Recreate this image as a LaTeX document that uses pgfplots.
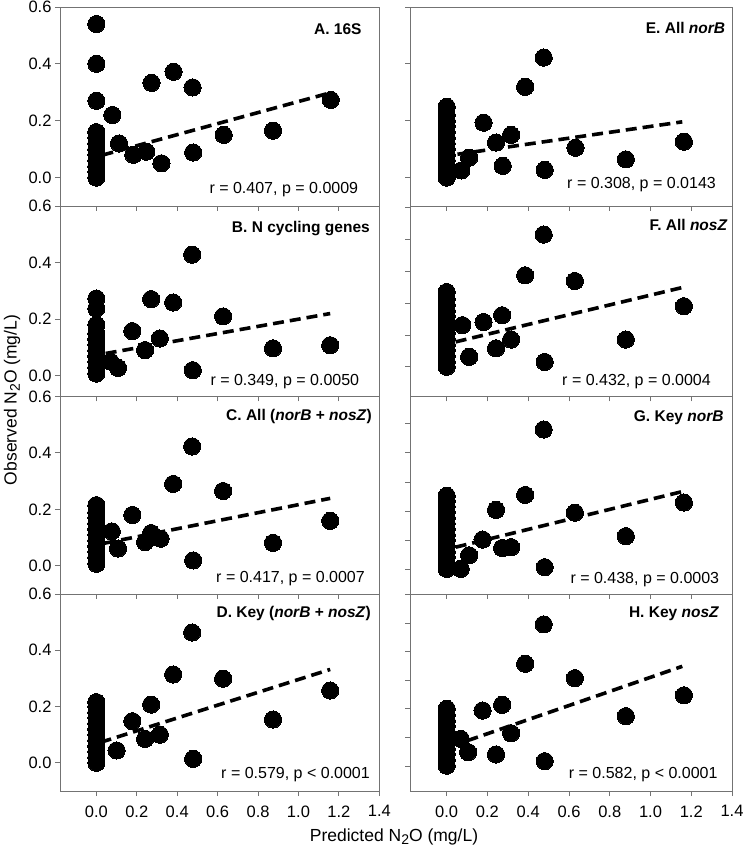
\documentclass[border=0pt]{standalone}
\usepackage{pgfplots}
\pgfplotsset{compat=1.18}
\usepackage{fontspec}
\setmainfont{Liberation Sans}
\definecolor{axgray}{gray}{0.45}
\newcommand{\NtwoO}{N\raisebox{-0.35ex}{\fontsize{14}{14}\selectfont 2}O}
\pgfplotsset{
  panel/.style={
    scale only axis,
    xmin=-0.18, xmax=1.4, ymax=0.6,
    axis line style={axgray, line width=0.9pt},
    tick style={axgray, line width=0.9pt},
    major tick length=5pt,
    tick align=outside,
    xtick pos=bottom, ytick pos=left,
    xtick={0,0.2,0.4,0.6,0.8,1.0,1.2,1.4},
    xticklabels={},
    clip=false,
    /pgf/number format/assume math mode=true,
    ticklabel style={font=\fontsize{16.5}{17}\selectfont},
    yticklabel style={/pgf/number format/.cd, fixed, fixed zerofill, precision=1},
    xticklabel style={yshift=-6pt},
  },
  leftp/.style={panel, width=319.3pt, ytick={0,0.2,0.4,0.6}},
  rightp/.style={panel, width=322pt, yticklabels={}},
  dots/.style={only marks, mark=*, mark size=8.6pt, mark options={fill=black, draw=black, line width=0pt}},
  reg/.style={no marks, black, line width=3.6pt, dash pattern=on 11pt off 6pt},
  xlabs/.style={xticklabels={0.0,0.2,0.4,0.6,0.8,1.0,1.2,1.4}},
}
\newcommand{\ttl}{\fontsize{15.5}{18}\selectfont\bfseries}
\newcommand{\rtx}{\fontsize{16}{18}\selectfont}
\begin{document}
\begin{tikzpicture}[x=1pt,y=1pt]
\path[use as bounding box] (0,0) rectangle (742,850);
% ---------- A ----------
\begin{axis}[leftp, at={(60pt,644pt)}, anchor=south west, height=199pt, ymin=-0.1]
\addplot[dots] coordinates {(0,0) (0,0.02) (0,0.04) (0,0.06) (0,0.08) (0,0.10) (0,0.12) (0,0.14) (0,0.16) (0,0.27) (0,0.40) (0,0.54)
 (0.079,0.22) (0.112,0.12) (0.183,0.08) (0.247,0.091) (0.273,0.333) (0.322,0.05) (0.382,0.372) (0.476,0.317) (0.479,0.088) (0.63,0.15) (0.874,0.165) (1.16,0.273)};
\addplot[reg] coordinates {(0.03,0.079) (1.157,0.298)};
\end{axis}
% ---------- B ----------
\begin{axis}[leftp, at={(60pt,453.5pt)}, anchor=south west, height=190.5pt, ymin=-0.073]
\addplot[dots] coordinates {(0,0.008) (0,0.03) (0,0.05) (0,0.07) (0,0.09) (0,0.11) (0,0.13) (0,0.15) (0,0.18) (0,0.238) (0,0.273)
 (0.07,0.05) (0.107,0.028) (0.178,0.158) (0.241,0.091) (0.271,0.271) (0.314,0.132) (0.38,0.259) (0.474,0.428) (0.477,0.02) (0.627,0.21) (0.874,0.097) (1.157,0.108)};
\addplot[reg] coordinates {(0.046,0.079) (1.157,0.22)};
\end{axis}
% ---------- C ----------
\begin{axis}[leftp, at={(60pt,256pt)}, anchor=south west, height=197.5pt, ymin=-0.1]
\addplot[dots] coordinates {(0,0.007) (0,0.03) (0,0.05) (0,0.07) (0,0.09) (0,0.11) (0,0.13) (0,0.15) (0,0.17) (0,0.19) (0,0.215)
 (0.076,0.122) (0.107,0.061) (0.178,0.18) (0.241,0.084) (0.271,0.116) (0.318,0.096) (0.38,0.29) (0.474,0.423) (0.479,0.019) (0.627,0.265) (0.874,0.081) (1.157,0.159)};
\addplot[reg] coordinates {(0.04,0.080) (1.157,0.239)};
\end{axis}
% ---------- D ----------
\begin{axis}[leftp, xlabs, at={(60pt,59pt)}, anchor=south west, height=197pt, ymin=-0.1]
\addplot[dots] coordinates {(0,0) (0,0.02) (0,0.04) (0,0.06) (0,0.08) (0,0.10) (0,0.12) (0,0.14) (0,0.16) (0,0.18) (0,0.2) (0,0.216)
 (0.1,0.044) (0.178,0.148) (0.241,0.085) (0.271,0.207) (0.314,0.1) (0.38,0.314) (0.474,0.463) (0.479,0.014) (0.627,0.299) (0.874,0.154) (1.157,0.257)};
\addplot[reg] coordinates {(0.021,0.073) (1.157,0.332)};
\end{axis}
% ---------- E ----------
\begin{axis}[rightp, at={(410pt,644pt)}, anchor=south west, height=199pt, ymin=-0.1, ytick={0,0.2,0.4,0.6}]
\addplot[dots] coordinates {(0,0.0) (0,0.02) (0,0.04) (0,0.06) (0,0.08) (0,0.10) (0,0.12) (0,0.14) (0,0.16) (0,0.18) (0,0.2) (0,0.22) (0,0.249)
 (0.072,0.025) (0.11,0.07) (0.181,0.193) (0.242,0.123) (0.275,0.041) (0.316,0.15) (0.385,0.319) (0.476,0.422) (0.481,0.027) (0.632,0.105) (0.879,0.064) (1.164,0.126)};
\addplot[reg] coordinates {(0.053,0.082) (1.156,0.196)};
\end{axis}
% ---------- F ----------
\begin{axis}[rightp, at={(410pt,453.5pt)}, anchor=south west, height=190.5pt, ymin=-0.073, ytick={0.032,0.144,0.256,0.369,0.482,0.595}]
\addplot[dots] coordinates {(0,0.032) (0,0.05) (0,0.07) (0,0.09) (0,0.11) (0,0.13) (0,0.15) (0,0.17) (0,0.19) (0,0.21) (0,0.23) (0,0.25) (0,0.27) (0,0.296)
 (0.077,0.179) (0.11,0.067) (0.181,0.19) (0.242,0.097) (0.272,0.214) (0.316,0.128) (0.385,0.355) (0.476,0.499) (0.481,0.049) (0.629,0.335) (0.879,0.128) (1.164,0.246)};
\addplot[reg] coordinates {(0.044,0.12) (1.156,0.312)};
\end{axis}
% ---------- G ----------
\begin{axis}[rightp, at={(410pt,256pt)}, anchor=south west, height=197.5pt, ymin=-0.1, ytick={-0.013,0.09,0.194,0.296,0.4,0.504}]
\addplot[dots] coordinates {(0,-0.011) (0,0.01) (0,0.03) (0,0.05) (0,0.07) (0,0.09) (0,0.11) (0,0.13) (0,0.15) (0,0.17) (0,0.19) (0,0.21) (0,0.23) (0,0.248)
 (0.069,-0.011) (0.11,0.037) (0.176,0.093) (0.242,0.198) (0.272,0.063) (0.316,0.066) (0.385,0.251) (0.476,0.483) (0.481,-0.005) (0.629,0.188) (0.879,0.105) (1.164,0.224)};
\addplot[reg] coordinates {(0.044,0.066) (1.156,0.263)};
\end{axis}
% ---------- H ----------
\begin{axis}[rightp, xlabs, at={(410pt,59pt)}, anchor=south west, height=197pt, ymin=-0.1, ytick={-0.011,0.09,0.192,0.294,0.396,0.497,0.598}]
\addplot[dots] coordinates {(0,-0.01) (0,0.01) (0,0.03) (0,0.05) (0,0.07) (0,0.09) (0,0.11) (0,0.13) (0,0.15) (0,0.17) (0,0.192)
 (0.069,0.085) (0.105,0.038) (0.176,0.186) (0.242,0.03) (0.272,0.206) (0.316,0.105) (0.385,0.352) (0.476,0.492) (0.481,0.006) (0.629,0.301) (0.879,0.166) (1.164,0.24)};
\addplot[reg] coordinates {(0.102,0.079) (1.156,0.343)};
\end{axis}
% ---------- panel texts ----------
\node[anchor=east, inner sep=0pt] at (361.7,821.3) {\ttl A. 16S};
\node[anchor=east, inner sep=0pt] at (358.3,660) {\rtx r = 0.407, p = 0.0009};
\node[anchor=east, inner sep=0pt] at (370,621.7) {\ttl B. N cycling genes};
\node[anchor=east, inner sep=0pt] at (359.3,468.3) {\rtx r = 0.349, p = 0.0050};
\node[anchor=east, inner sep=0pt] at (372,433.3) {\ttl C. All (\textit{norB} + \textit{nosZ})};
\node[anchor=east, inner sep=0pt] at (365,271.7) {\rtx r = 0.417, p = 0.0007};
\node[anchor=east, inner sep=0pt] at (371,236.7) {\ttl D. Key (\textit{norB} + \textit{nosZ})};
\node[anchor=east, inner sep=0pt] at (370,75) {\rtx r = 0.579, p < 0.0001};
\node[anchor=east, inner sep=0pt] at (725.3,822) {\ttl E. All \textit{norB}};
\node[anchor=east, inner sep=0pt] at (716,665) {\rtx r = 0.308, p = 0.0143};
\node[anchor=east, inner sep=0pt] at (727.7,625) {\ttl F. All \textit{nosZ}};
\node[anchor=east, inner sep=0pt] at (711,468.3) {\rtx r = 0.432, p = 0.0004};
\node[anchor=east, inner sep=0pt] at (723.7,432.7) {\ttl G. Key \textit{norB}};
\node[anchor=east, inner sep=0pt] at (719.3,270) {\rtx r = 0.438, p = 0.0003};
\node[anchor=east, inner sep=0pt] at (719.3,236.7) {\ttl H. Key \textit{nosZ}};
\node[anchor=east, inner sep=0pt] at (717.7,75) {\rtx r = 0.582, p < 0.0001};
% ---------- axis titles ----------
\node[rotate=90, inner sep=0pt] at (12,450) {\fontsize{17.5}{20}\selectfont Observed \NtwoO{} (mg/L)};
\node[inner sep=0pt] at (394,13) {\fontsize{17.5}{20}\selectfont Predicted \NtwoO{} (mg/L)};
\end{tikzpicture}
\end{document}
